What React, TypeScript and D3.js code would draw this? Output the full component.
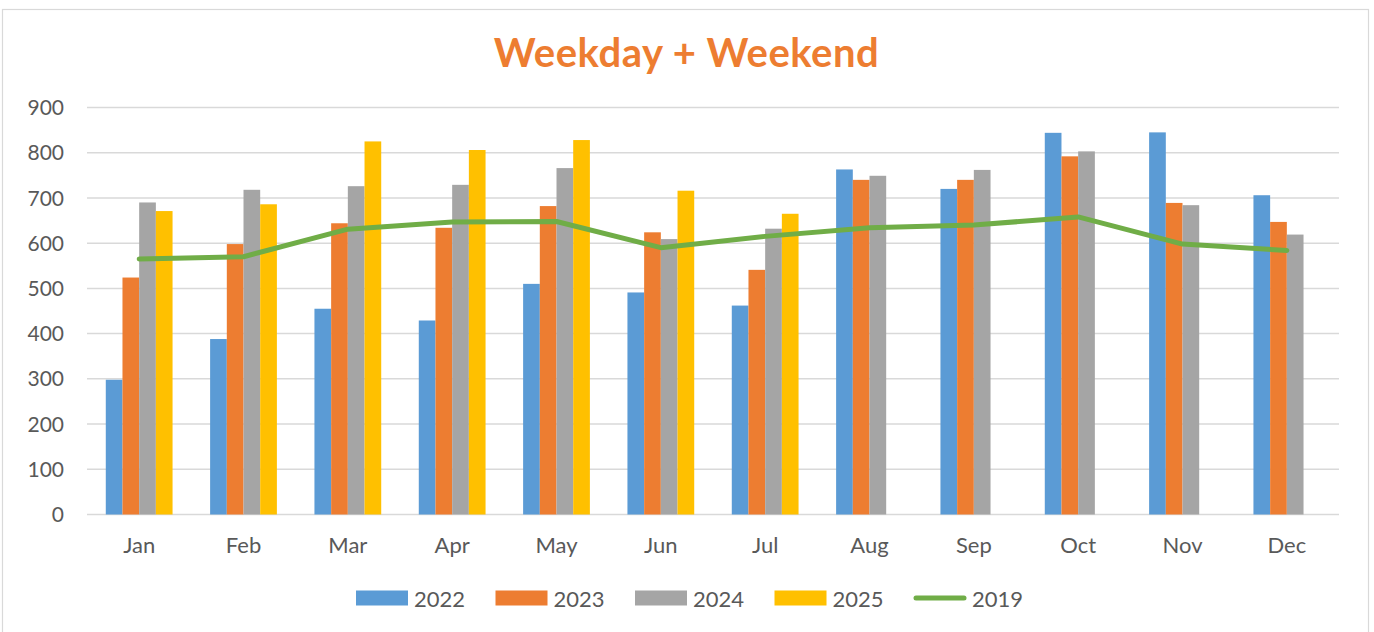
import React from 'react';
import * as d3 from 'd3';

const months = ['Jan', 'Feb', 'Mar', 'Apr', 'May', 'Jun', 'Jul', 'Aug', 'Sep', 'Oct', 'Nov', 'Dec'];
const barSeries = ['2022', '2023', '2024', '2025'];
const values2022 = [298, 388, 455, 429, 510, 491, 462, 763, 720, 844, 845, 706];
const values2023 = [524, 598, 644, 634, 682, 624, 541, 740, 740, 792, 689, 647];
const values2024 = [690, 718, 726, 729, 766, 609, 632, 749, 762, 803, 684, 619];
const values2025 = [671, 686, 825, 806, 828, 716, 665, null, null, null, null, null];
const values2019 = [565, 570, 631, 647, 648, 590, 615, 634, 640, 658, 598, 584];
const yTicks = [0, 100, 200, 300, 400, 500, 600, 700, 800, 900];

const colors: Record<string, string> = {
  '2022': '#5B9BD5',
  '2023': '#ED7D31',
  '2024': '#A5A5A5',
  '2025': '#FFC000',
  '2019': '#70AD47',
};

const W = 1374;
const H = 632;
const font = 'Lato, "Open Sans", sans-serif';

export default function App() {
  const seriesValues: Record<string, (number | null)[]> = {
    '2022': values2022,
    '2023': values2023,
    '2024': values2024,
    '2025': values2025,
  };

  const x0 = d3.scaleBand<string>().domain(months).range([87, 1339]).padding(0);
  // Excel-style gap: 4 bars plus 225% gap per category
  const x1 = d3
    .scaleBand<string>()
    .domain(barSeries)
    .range([0, x0.bandwidth()])
    .paddingInner(0)
    .paddingOuter(1.125);
  const y = d3.scaleLinear().domain([0, 900]).range([514.5, 107.5]);

  const line = d3
    .line<number>()
    .x((_, i) => (x0(months[i]) as number) + x0.bandwidth() / 2)
    .y((d) => y(d));

  const legendItems = [...barSeries, '2019'];

  return (
    <svg
      width={W}
      height={H}
      style={{ position: 'absolute', left: 0, top: 0, background: '#fff' }}
    >
      <rect x={2.5} y={9.5} width={1366} height={640} fill="#fff" stroke="#d9d9d9" strokeWidth={1.2} />
      <text
        x={686.5}
        y={66.5}
        textAnchor="middle"
        fill="#ED7D31"
        fontFamily={font}
        fontWeight={700}
        fontSize={40}
        letterSpacing={0.5}
      >
        Weekday + Weekend
      </text>

      {yTicks.map((t) => (
        <g key={t}>
          <line x1={87} x2={1339} y1={y(t)} y2={y(t)} stroke="#d9d9d9" strokeWidth={1.5} />
          <text
            x={64}
            y={y(t)}
            dy="0.36em"
            textAnchor="end"
            fill="#595959"
            fontFamily={font}
            fontSize={21}
          >
            {t}
          </text>
        </g>
      ))}

      {months.map((m, i) => (
        <g key={m} transform={`translate(${x0(m)},0)`}>
          {barSeries.map((s) => {
            const v = seriesValues[s][i];
            if (v == null) return null;
            return (
              <rect
                key={s}
                x={x1(s)}
                y={y(v)}
                width={x1.bandwidth()}
                height={y(0) - y(v)}
                fill={colors[s]}
              />
            );
          })}
          <text
            x={x0.bandwidth() / 2}
            y={553}
            textAnchor="middle"
            fill="#595959"
            fontFamily={font}
            fontSize={22}
          >
            {m}
          </text>
        </g>
      ))}

      <path
        d={line(values2019) || ''}
        fill="none"
        stroke={colors['2019']}
        strokeWidth={5}
        strokeLinejoin="round"
        strokeLinecap="round"
      />

      {legendItems.map((s, i) => {
        const lx = 356 + i * 139.5;
        return (
          <g key={s} transform={`translate(${lx},0)`}>
            {s === '2019' ? (
              <line x1={2} x2={50} y1={598} y2={598} stroke={colors[s]} strokeWidth={5} strokeLinecap="round" />
            ) : (
              <rect x={0} y={590.5} width={52} height={15} fill={colors[s]} />
            )}
            <text x={58} y={606.5} fill="#595959" fontFamily={font} fontSize={22}>
              {s}
            </text>
          </g>
        );
      })}
    </svg>
  );
}
